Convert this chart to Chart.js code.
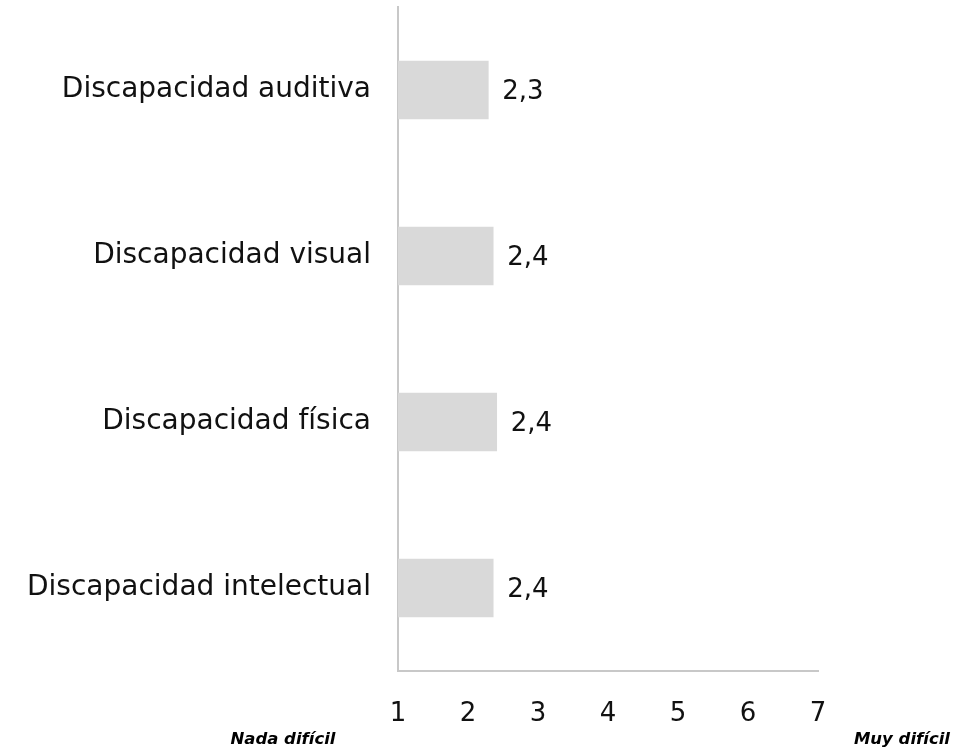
<!DOCTYPE html>
<html>
<head>
<meta charset="utf-8">
<script src="https://cdn.jsdelivr.net/npm/chart.js@4/dist/chart.umd.min.js"></script>
<style>
  html, body { margin: 0; padding: 0; background: #fff; }
  #wrap { width: 970px; height: 751px; }
</style>
</head>
<body>
<div id="wrap"><canvas id="chart" width="970" height="751"></canvas></div>
<script>
// data
const categories = ['Discapacidad auditiva', 'Discapacidad visual', 'Discapacidad física', 'Discapacidad intelectual'];
const scores = [2.29, 2.36, 2.41, 2.36];
const scoreLabels = ['2,3', '2,4', '2,4', '2,4'];
const tickValues = [1, 2, 3, 4, 5, 6, 7];
const endLabels = ['Nada difícil', 'Muy difícil'];

const FONT = "'DejaVu Sans', sans-serif";

// value labels next to each bar
const valueLabels = {
  id: 'valueLabels',
  afterDatasetsDraw(chart) {
    const ctx = chart.ctx;
    const meta = chart.getDatasetMeta(0);
    ctx.save();
    ctx.font = '26px ' + FONT;
    ctx.fillStyle = '#111';
    ctx.textAlign = 'left';
    ctx.textBaseline = 'middle';
    meta.data.forEach((bar, i) => {
      ctx.fillText(scoreLabels[i], bar.x + 14, bar.y + 2);
    });
    ctx.restore();
  }
};

// "Nada difícil" / "Muy difícil" under the scale
const scaleEnds = {
  id: 'scaleEnds',
  afterDraw(chart) {
    const ctx = chart.ctx;
    ctx.save();
    ctx.font = 'italic bold 16.5px ' + FONT;
    ctx.fillStyle = '#000';
    ctx.textBaseline = 'middle';
    ctx.textAlign = 'center';
    ctx.fillText(endLabels[0], 283, 740);
    ctx.textAlign = 'right';
    ctx.fillText(endLabels[1], 950, 740);
    ctx.restore();
  }
};

new Chart(document.getElementById('chart'), {
  type: 'bar',
  data: {
    labels: categories,
    datasets: [{
      data: scores,
      backgroundColor: '#d9d9d9',
      borderWidth: 0,
      barThickness: 58,
    }]
  },
  options: {
    indexAxis: 'y',
    responsive: false,
    animation: false,
    layout: { padding: { top: 7, right: 152, left: 0, bottom: 0 } },
    scales: {
      x: {
        min: 1,
        max: 7,
        afterBuildTicks: s => { s.ticks = tickValues.map(v => ({ value: v })); },
        afterFit: s => { s.height = 80; s.paddingLeft = 0; s.paddingRight = 0; },
        grid: { display: false, drawTicks: false },
        border: { color: '#c8c8c8', width: 2 },
        ticks: { color: '#111', font: { family: FONT, size: 26 }, padding: 28 }
      },
      y: {
        afterFit: s => { s.width = 398; s.paddingTop = 0; s.paddingBottom = 0; },
        grid: { display: false, drawTicks: false },
        border: { color: '#c8c8c8', width: 2 },
        ticks: { color: '#111', font: { family: FONT, size: 28 }, padding: 27 }
      }
    },
    plugins: {
      legend: { display: false },
      tooltip: { enabled: false }
    }
  },
  plugins: [valueLabels, scaleEnds]
});
</script>
</body>
</html>
